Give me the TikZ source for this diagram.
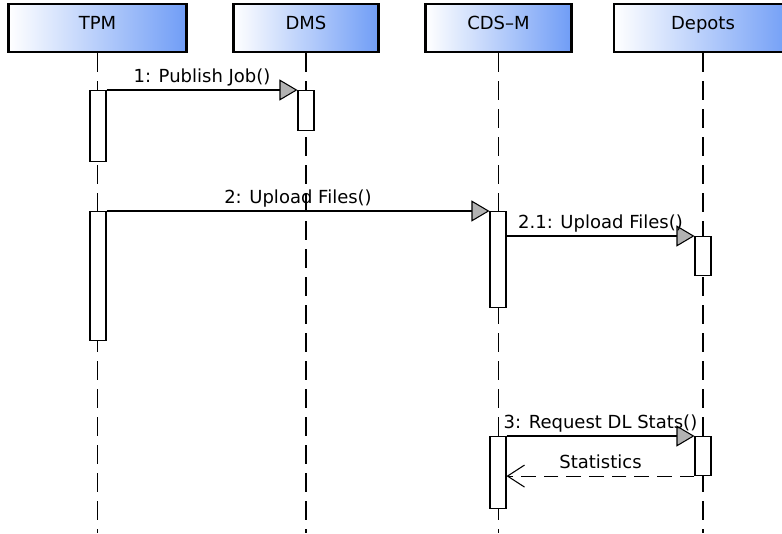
\documentclass[tikz,border=0pt]{standalone}
\usepackage{fontspec}
\setmainfont{DejaVu Sans}
\usetikzlibrary{arrows.meta}
\usetikzlibrary{positioning}
\definecolor{headblue}{RGB}{112,157,246}

\tikzset{
    lifebox/.style={draw=black, line width=2.1pt, left color=white, right color=headblue,
        minimum height=36pt, inner sep=0pt, text height=9.5pt, text depth=8pt,
        font=\fontsize{13.5}{16}\selectfont},
    lifeline/.style={line width=1.1pt, dash pattern=on 14pt off 7pt},
    actbox/.style={draw=black, line width=0.8pt, fill=white, anchor=north,
        minimum width=12pt, inner sep=0pt},
    msg/.style={line width=0.8pt,
        -{Triangle[length=13.5pt, width=15.75pt, fill=gray!60, line width=0.8pt]}},
    reply/.style={line width=0.8pt, dash pattern=on 11pt off 6pt,
        -{Straight Barb[length=12.75pt, width=16.5pt, line width=0.8pt]}},
    msglabel/.style={midway, anchor=base, yshift=5.7pt, inner sep=0pt,
        font=\fontsize{13.5}{16}\selectfont}
}

\begin{document}
\begin{tikzpicture}[x=0.75pt, y=-0.75pt]
        \clip (0,0) rectangle (782,533);

        % Heads of the four lifelines
        \node[lifebox, minimum width=133.5pt] (tpm) at (97.5,28) {TPM};
        \node[lifebox, minimum width=109pt] (dms) at (306,28) {DMS};
        \node[lifebox, minimum width=109pt] (cds) at (498.5,28) {CDS--M};
        \node[lifebox, minimum width=133.5pt] (dep) at (703,28) {Depots};

        % Lifelines
        \foreach \h in {tpm, dms, cds, dep} {
            \draw[lifeline] (\h.south) -- (\h.south |- 0,533);
        }

        % Activations
        \node[actbox, minimum height=71*0.75pt] (tpmA) at (98,90) {};
        \node[actbox, minimum height=40*0.75pt] (dmsA) at (306,90) {};
        \node[actbox, minimum height=129*0.75pt] (tpmB) at (98,211) {};
        \node[actbox, minimum height=96*0.75pt] (cdsA) at (498,211) {};
        \node[actbox, minimum height=39*0.75pt] (depA) at (703,236) {};
        \node[actbox, minimum height=72*0.75pt] (cdsB) at (498,436) {};
        \node[actbox, minimum height=39*0.75pt] (depB) at (703,436) {};

        % Messages
        \draw[msg] (tpmA.north east) -- node[msglabel] (m1) {1: Publish Job()} (dmsA.north west);
        \draw[msg] (tpmB.north east) -- node[msglabel] (m2) {2: Upload Files()} (cdsA.north west);
        \draw[msg] (cdsA.east |- depA.north) -- node[msglabel] (m21) {2.1: Upload Files()} (depA.north west);
        \draw[msg] (cdsB.north east) -- node[msglabel] (m3) {3: Request DL Stats()} (depB.north west);
        \draw[reply] (depB.south west) -- node[msglabel] (r3) {Statistics} (cdsB.east |- depB.south);
    \end{tikzpicture}
\end{document}
